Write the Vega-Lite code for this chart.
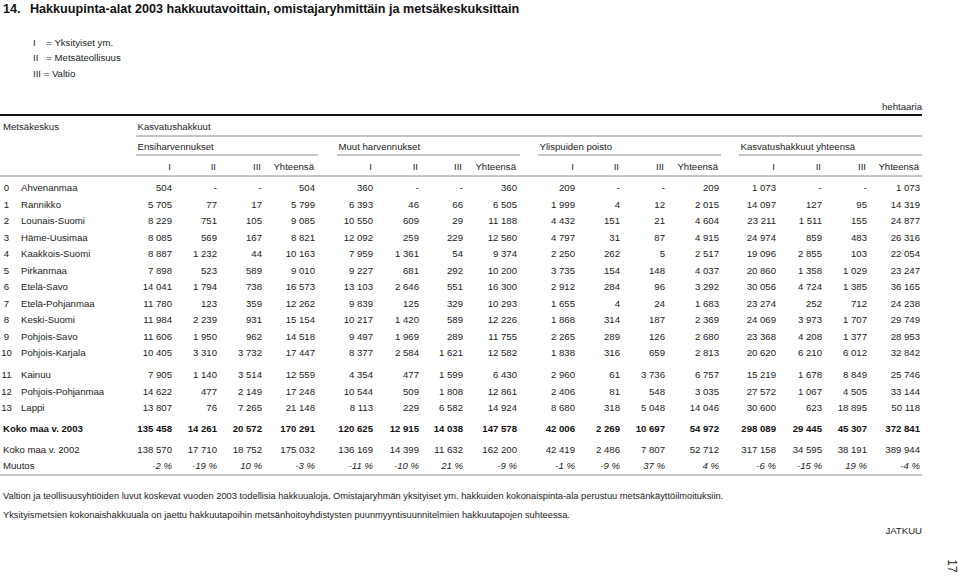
{
  "$schema": "https://vega.github.io/schema/vega-lite/v6.json",
  "width": 959,
  "height": 577,
  "autosize": {"type": "none"},
  "padding": 0,
  "background": "white",
  "config": {
    "view": {"stroke": null},
    "locale": {"number": {"decimal": ",", "thousands": " ", "grouping": [3], "currency": ["", " €"]}},
    "text": {"font": "Liberation Sans, Arial, sans-serif", "fontSize": 9.6, "color": "#222", "baseline": "middle"}
  },
  "datasets": {
    "rows": [
      {"ln": 8, "no": "0", "name": "Ahvenanmaa", "E1": 504, "E2": null, "E3": null, "E4": 504, "M1": 360, "M2": null, "M3": null, "M4": 360, "Y1": 209, "Y2": null, "Y3": null, "Y4": 209, "K1": 1073, "K2": null, "K3": null, "K4": 1073},
      {"ln": 9, "no": "1", "name": "Rannikko", "E1": 5705, "E2": 77, "E3": 17, "E4": 5799, "M1": 6393, "M2": 46, "M3": 66, "M4": 6505, "Y1": 1999, "Y2": 4, "Y3": 12, "Y4": 2015, "K1": 14097, "K2": 127, "K3": 95, "K4": 14319},
      {"ln": 10, "no": "2", "name": "Lounais-Suomi", "E1": 8229, "E2": 751, "E3": 105, "E4": 9085, "M1": 10550, "M2": 609, "M3": 29, "M4": 11188, "Y1": 4432, "Y2": 151, "Y3": 21, "Y4": 4604, "K1": 23211, "K2": 1511, "K3": 155, "K4": 24877},
      {"ln": 11, "no": "3", "name": "Häme-Uusimaa", "E1": 8085, "E2": 569, "E3": 167, "E4": 8821, "M1": 12092, "M2": 259, "M3": 229, "M4": 12580, "Y1": 4797, "Y2": 31, "Y3": 87, "Y4": 4915, "K1": 24974, "K2": 859, "K3": 483, "K4": 26316},
      {"ln": 12, "no": "4", "name": "Kaakkois-Suomi", "E1": 8887, "E2": 1232, "E3": 44, "E4": 10163, "M1": 7959, "M2": 1361, "M3": 54, "M4": 9374, "Y1": 2250, "Y2": 262, "Y3": 5, "Y4": 2517, "K1": 19096, "K2": 2855, "K3": 103, "K4": 22054},
      {"ln": 13, "no": "5", "name": "Pirkanmaa", "E1": 7898, "E2": 523, "E3": 589, "E4": 9010, "M1": 9227, "M2": 681, "M3": 292, "M4": 10200, "Y1": 3735, "Y2": 154, "Y3": 148, "Y4": 4037, "K1": 20860, "K2": 1358, "K3": 1029, "K4": 23247},
      {"ln": 14, "no": "6", "name": "Etelä-Savo", "E1": 14041, "E2": 1794, "E3": 738, "E4": 16573, "M1": 13103, "M2": 2646, "M3": 551, "M4": 16300, "Y1": 2912, "Y2": 284, "Y3": 96, "Y4": 3292, "K1": 30056, "K2": 4724, "K3": 1385, "K4": 36165},
      {"ln": 15, "no": "7", "name": "Etelä-Pohjanmaa", "E1": 11780, "E2": 123, "E3": 359, "E4": 12262, "M1": 9839, "M2": 125, "M3": 329, "M4": 10293, "Y1": 1655, "Y2": 4, "Y3": 24, "Y4": 1683, "K1": 23274, "K2": 252, "K3": 712, "K4": 24238},
      {"ln": 16, "no": "8", "name": "Keski-Suomi", "E1": 11984, "E2": 2239, "E3": 931, "E4": 15154, "M1": 10217, "M2": 1420, "M3": 589, "M4": 12226, "Y1": 1868, "Y2": 314, "Y3": 187, "Y4": 2369, "K1": 24069, "K2": 3973, "K3": 1707, "K4": 29749},
      {"ln": 17, "no": "9", "name": "Pohjois-Savo", "E1": 11606, "E2": 1950, "E3": 962, "E4": 14518, "M1": 9497, "M2": 1969, "M3": 289, "M4": 11755, "Y1": 2265, "Y2": 289, "Y3": 126, "Y4": 2680, "K1": 23368, "K2": 4208, "K3": 1377, "K4": 28953},
      {"ln": 18, "no": "10", "name": "Pohjois-Karjala", "E1": 10405, "E2": 3310, "E3": 3732, "E4": 17447, "M1": 8377, "M2": 2584, "M3": 1621, "M4": 12582, "Y1": 1838, "Y2": 316, "Y3": 659, "Y4": 2813, "K1": 20620, "K2": 6210, "K3": 6012, "K4": 32842},
      {"ln": 19, "no": "11", "name": "Kainuu", "E1": 7905, "E2": 1140, "E3": 3514, "E4": 12559, "M1": 4354, "M2": 477, "M3": 1599, "M4": 6430, "Y1": 2960, "Y2": 61, "Y3": 3736, "Y4": 6757, "K1": 15219, "K2": 1678, "K3": 8849, "K4": 25746},
      {"ln": 20, "no": "12", "name": "Pohjois-Pohjanmaa", "E1": 14622, "E2": 477, "E3": 2149, "E4": 17248, "M1": 10544, "M2": 509, "M3": 1808, "M4": 12861, "Y1": 2406, "Y2": 81, "Y3": 548, "Y4": 3035, "K1": 27572, "K2": 1067, "K3": 4505, "K4": 33144},
      {"ln": 21, "no": "13", "name": "Lappi", "E1": 13807, "E2": 76, "E3": 7265, "E4": 21148, "M1": 8113, "M2": 229, "M3": 6582, "M4": 14924, "Y1": 8680, "Y2": 318, "Y3": 5048, "Y4": 14046, "K1": 30600, "K2": 623, "K3": 18895, "K4": 50118},
      {"ln": 22, "label": "Koko maa v. 2003", "E1": 135458, "E2": 14261, "E3": 20572, "E4": 170291, "M1": 120625, "M2": 12915, "M3": 14038, "M4": 147578, "Y1": 42006, "Y2": 2269, "Y3": 10697, "Y4": 54972, "K1": 298089, "K2": 29445, "K3": 45307, "K4": 372841},
      {"ln": 23, "label": "Koko maa v. 2002", "E1": 138570, "E2": 17710, "E3": 18752, "E4": 175032, "M1": 136169, "M2": 14399, "M3": 11632, "M4": 162200, "Y1": 42419, "Y2": 2486, "Y3": 7807, "Y4": 52712, "K1": 317158, "K2": 34595, "K3": 38191, "K4": 389944}
    ],
    "muutos": [
      {"ln": 24, "label": "Muutos", "E1": "-2 %", "E2": "-19 %", "E3": "10 %", "E4": "-3 %", "M1": "-11 %", "M2": "-10 %", "M3": "21 %", "M4": "-9 %", "Y1": "-1 %", "Y2": "-9 %", "Y3": "37 %", "Y4": "4 %", "K1": "-6 %", "K2": "-15 %", "K3": "19 %", "K4": "-4 %"}
    ],
    "cols": [
      {"key": "E1", "col": 10, "h": "I"}, {"key": "E2", "col": 11, "h": "II"}, {"key": "E3", "col": 12, "h": "III"}, {"key": "E4", "col": 13, "h": "Yhteensä"},
      {"key": "M1", "col": 16, "h": "I"}, {"key": "M2", "col": 17, "h": "II"}, {"key": "M3", "col": 18, "h": "III"}, {"key": "M4", "col": 19, "h": "Yhteensä"},
      {"key": "Y1", "col": 22, "h": "I"}, {"key": "Y2", "col": 23, "h": "II"}, {"key": "Y3", "col": 24, "h": "III"}, {"key": "Y4", "col": 25, "h": "Yhteensä"},
      {"key": "K1", "col": 28, "h": "I"}, {"key": "K2", "col": 29, "h": "II"}, {"key": "K3", "col": 30, "h": "III"}, {"key": "K4", "col": 31, "h": "Yhteensä"}
    ],
    "texts": [
      {"ln": 0, "col": 1, "txt": "14.", "role": "title"},
      {"ln": 0, "col": 4, "txt": "Hakkuupinta-alat 2003 hakkuutavoittain, omistajaryhmittäin ja metsäkeskuksittain", "role": "title"},
      {"ln": 1, "col": 5, "txt": "I\u00a0\u00a0\u00a0\u00a0= Yksityiset ym.", "role": "left"},
      {"ln": 2, "col": 5, "txt": "II\u00a0\u00a0\u00a0= Metsäteollisuus", "role": "left"},
      {"ln": 3, "col": 5, "txt": "III = Valtio", "role": "left"},
      {"ln": 4, "col": 32, "txt": "hehtaaria", "role": "right"},
      {"ln": 5, "col": 1, "txt": "Metsäkeskus", "role": "left"},
      {"ln": 5, "col": 6, "txt": "Kasvatushakkuut", "role": "grp"},
      {"ln": 6, "col": 6, "txt": "Ensiharvennukset", "role": "grp"},
      {"ln": 6, "col": 15, "txt": "Muut harvennukset", "role": "grp"},
      {"ln": 6, "col": 21, "txt": "Ylispuiden poisto", "role": "grp"},
      {"ln": 6, "col": 27, "txt": "Kasvatushakkuut yhteensä", "role": "grp"},
      {"ln": 25, "col": 1, "txt": "Valtion ja teollisuusyhtiöiden luvut koskevat vuoden 2003 todellisia hakkuualoja. Omistajaryhmän yksityiset ym. hakkuiden kokonaispinta-ala perustuu metsänkäyttöilmoituksiin.", "role": "note"},
      {"ln": 26, "col": 1, "txt": "Yksityismetsien kokonaishakkuuala on jaettu hakkuutapoihin metsänhoitoyhdistysten puunmyyntisuunnitelmien hakkuutapojen suhteessa.", "role": "note"},
      {"ln": 27, "col": 32, "txt": "JATKUU", "role": "right"},
      {"ln": 28, "col": 33, "txt": "17", "role": "page"}
    ],
    "rules": [
      {"ln": 4.5, "col": 0, "col2": 32, "role": "thick"},
      {"ln": 5.5, "col": 6, "col2": 32, "role": "thin"},
      {"ln": 6.5, "col": 6, "col2": 14, "role": "thin"},
      {"ln": 6.5, "col": 15, "col2": 20, "role": "thin"},
      {"ln": 6.5, "col": 21, "col2": 26, "role": "thin"},
      {"ln": 6.5, "col": 27, "col2": 32, "role": "thin"},
      {"ln": 7.5, "col": 0, "col2": 32, "role": "thin"},
      {"ln": 24.5, "col": 0, "col2": 32, "role": "thin"}
    ]
  },
  "layer": [
    {
      "data": {"name": "rules"},
      "transform": [{"filter": "datum.role === 'thin'"}],
      "mark": {"type": "rule", "color": "#8a8a8a", "strokeWidth": 1},
      "encoding": {
        "x": {"field": "col", "type": "quantitative", "axis": null, "scale": {"domain": [0,1,2,3,4,5,6,10,11,12,13,14,15,16,17,18,19,20,21,22,23,24,25,26,27,28,29,30,31,32,33], "range": [0,3,6.5,21,30,33,136,172,217,262,315,318,337,373,419,463,517,520,538,575,620,665,719,721,739,776,822,867,920,922,952], "nice": false, "zero": false}},
        "x2": {"field": "col2"},
        "y": {"field": "ln", "type": "quantitative", "axis": null, "scale": {"domain": [0,1,2,3,4,4.5,5,5.5,6,6.5,7,7.5,8,18,19,21,22,23,24,24.5,25,26,27,28], "range": [9,43,58,74,107,115,127,136,147,155,167,176,188,353,375,408,429,450,466,475,496,515,531,566], "nice": false, "zero": false}}
      }
    },
    {
      "data": {"name": "rules"},
      "transform": [{"filter": "datum.role === 'thick'"}],
      "mark": {"type": "rule", "color": "#111", "strokeWidth": 2},
      "encoding": {
        "x": {"field": "col", "type": "quantitative"},
        "x2": {"field": "col2"},
        "y": {"field": "ln", "type": "quantitative"}
      }
    },
    {
      "data": {"name": "texts"},
      "transform": [{"filter": "datum.role === 'title'"}],
      "mark": {"type": "text", "align": "left", "fontSize": 12.6, "fontWeight": "bold", "color": "#111"},
      "encoding": {
        "x": {"field": "col", "type": "quantitative"},
        "y": {"field": "ln", "type": "quantitative"},
        "text": {"field": "txt"}
      }
    },
    {
      "data": {"name": "texts"},
      "transform": [{"filter": "datum.role === 'left'"}],
      "mark": {"type": "text", "align": "left"},
      "encoding": {
        "x": {"field": "col", "type": "quantitative"},
        "y": {"field": "ln", "type": "quantitative"},
        "text": {"field": "txt"}
      }
    },
    {
      "data": {"name": "texts"},
      "transform": [{"filter": "datum.role === 'grp'"}],
      "mark": {"type": "text", "align": "left", "dx": 1.5},
      "encoding": {
        "x": {"field": "col", "type": "quantitative"},
        "y": {"field": "ln", "type": "quantitative"},
        "text": {"field": "txt"}
      }
    },
    {
      "data": {"name": "texts"},
      "transform": [{"filter": "datum.role === 'note'"}],
      "mark": {"type": "text", "align": "left", "fontSize": 9.3},
      "encoding": {
        "x": {"field": "col", "type": "quantitative"},
        "y": {"field": "ln", "type": "quantitative"},
        "text": {"field": "txt"}
      }
    },
    {
      "data": {"name": "texts"},
      "transform": [{"filter": "datum.role === 'right'"}],
      "mark": {"type": "text", "align": "right"},
      "encoding": {
        "x": {"field": "col", "type": "quantitative"},
        "y": {"field": "ln", "type": "quantitative"},
        "text": {"field": "txt"}
      }
    },
    {
      "data": {"name": "texts"},
      "transform": [{"filter": "datum.role === 'page'"}],
      "mark": {"type": "text", "align": "center", "angle": 90, "fontSize": 12},
      "encoding": {
        "x": {"field": "col", "type": "quantitative"},
        "y": {"field": "ln", "type": "quantitative"},
        "text": {"field": "txt"}
      }
    },
    {
      "data": {"name": "cols"},
      "mark": {"type": "text", "align": "right", "dx": -1},
      "encoding": {
        "x": {"field": "col", "type": "quantitative"},
        "y": {"datum": 7, "type": "quantitative"},
        "text": {"field": "h"}
      }
    },
    {
      "data": {"name": "rows"},
      "transform": [{"filter": "isValid(datum.no)"}],
      "mark": {"type": "text", "align": "center"},
      "encoding": {
        "x": {"datum": 2, "type": "quantitative"},
        "y": {"field": "ln", "type": "quantitative"},
        "text": {"field": "no"}
      }
    },
    {
      "data": {"name": "rows"},
      "transform": [{"filter": "isValid(datum.name)"}],
      "mark": {"type": "text", "align": "left"},
      "encoding": {
        "x": {"datum": 3, "type": "quantitative"},
        "y": {"field": "ln", "type": "quantitative"},
        "text": {"field": "name"}
      }
    },
    {
      "data": {"name": "rows"},
      "transform": [{"filter": "datum.ln === 23"}],
      "mark": {"type": "text", "align": "left"},
      "encoding": {
        "x": {"datum": 1, "type": "quantitative"},
        "y": {"field": "ln", "type": "quantitative"},
        "text": {"field": "label"}
      }
    },
    {
      "data": {"name": "rows"},
      "transform": [{"filter": "datum.ln === 22"}],
      "mark": {"type": "text", "align": "left", "fontWeight": "bold", "color": "#111"},
      "encoding": {
        "x": {"datum": 1, "type": "quantitative"},
        "y": {"field": "ln", "type": "quantitative"},
        "text": {"field": "label"}
      }
    },
    {
      "data": {"name": "muutos"},
      "mark": {"type": "text", "align": "left"},
      "encoding": {
        "x": {"datum": 1, "type": "quantitative"},
        "y": {"field": "ln", "type": "quantitative"},
        "text": {"field": "label"}
      }
    },
    {
      "data": {"name": "rows"},
      "transform": [
        {"filter": "datum.ln !== 22"},
        {"fold": ["E1","E2","E3","E4","M1","M2","M3","M4","Y1","Y2","Y3","Y4","K1","K2","K3","K4"], "as": ["key", "v"]},
        {"lookup": "key", "from": {"data": {"name": "cols"}, "key": "key", "fields": ["col"]}}
      ],
      "mark": {"type": "text", "align": "right"},
      "encoding": {
        "x": {"field": "col", "type": "quantitative"},
        "y": {"field": "ln", "type": "quantitative"},
        "text": {"field": "v", "type": "quantitative", "format": ",d", "condition": {"test": "!isValid(datum.v)", "value": "-"}}
      }
    },
    {
      "data": {"name": "rows"},
      "transform": [
        {"filter": "datum.ln === 22"},
        {"fold": ["E1","E2","E3","E4","M1","M2","M3","M4","Y1","Y2","Y3","Y4","K1","K2","K3","K4"], "as": ["key", "v"]},
        {"lookup": "key", "from": {"data": {"name": "cols"}, "key": "key", "fields": ["col"]}}
      ],
      "mark": {"type": "text", "align": "right", "fontWeight": "bold", "color": "#111"},
      "encoding": {
        "x": {"field": "col", "type": "quantitative"},
        "y": {"field": "ln", "type": "quantitative"},
        "text": {"field": "v", "type": "quantitative", "format": ",d"}
      }
    },
    {
      "data": {"name": "muutos"},
      "transform": [
        {"fold": ["E1","E2","E3","E4","M1","M2","M3","M4","Y1","Y2","Y3","Y4","K1","K2","K3","K4"], "as": ["key", "v"]},
        {"lookup": "key", "from": {"data": {"name": "cols"}, "key": "key", "fields": ["col"]}}
      ],
      "mark": {"type": "text", "align": "right", "fontStyle": "italic"},
      "encoding": {
        "x": {"field": "col", "type": "quantitative"},
        "y": {"field": "ln", "type": "quantitative"},
        "text": {"field": "v"}
      }
    }
  ]
}
